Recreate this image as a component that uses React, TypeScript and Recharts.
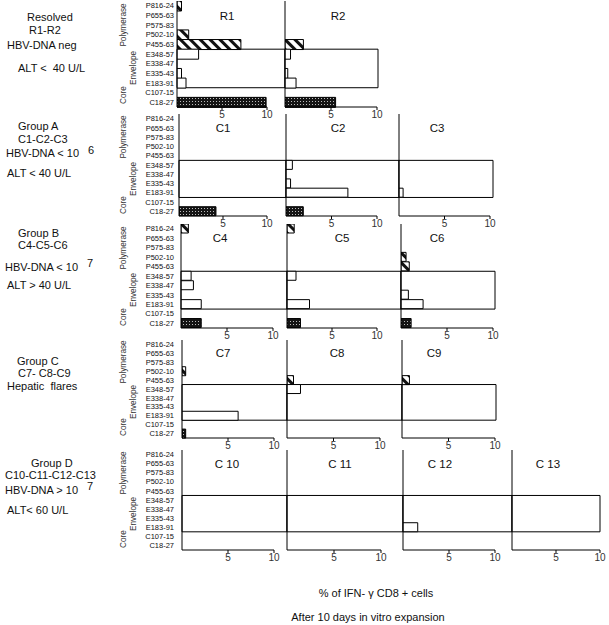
import React from 'react';
import { BarChart, Bar, XAxis, YAxis, ReferenceArea, Cell } from 'recharts';

// peptide categories, top to bottom
const categories = ['P816-24', 'P655-63', 'P575-83', 'P502-10', 'P455-63', 'E348-57', 'E338-47', 'E335-43', 'E183-91', 'C107-15', 'C18-27'];
const groupOf = ['pol', 'pol', 'pol', 'pol', 'pol', 'env', 'env', 'env', 'env', 'core', 'core'];
const xTicks = [5, 10];

// % of IFN-gamma CD8+ cells per peptide (same order as categories)
const R1 = [0.5, 0, 0, 1.3, 7.1, 2.4, 0, 0.5, 1.0, 0, 9.9];
const R2 = [0, 0, 0, 0, 2.0, 0.6, 0, 0.3, 1.2, 0, 5.5];
const C1 = [0, 0, 0, 0, 0, 0, 0, 0, 0, 0, 4.2];
const C2 = [0, 0, 0, 0, 0, 0.7, 0, 0.5, 6.8, 0, 1.9];
const C3 = [0, 0, 0, 0, 0, 0, 0, 0, 0.45, 0, 0];
const C4 = [0.8, 0, 0, 0, 0, 1.1, 1.35, 0, 2.2, 0, 2.2];
const C5 = [0.8, 0, 0, 0, 0, 1.0, 0, 0, 2.5, 0, 1.5];
const C6 = [0, 0, 0, 0.55, 0.9, 0, 0, 0.8, 2.4, 0, 1.1];
const C7 = [0, 0, 0, 0.4, 0, 0, 0, 0, 6.1, 0, 0.4];
const C8 = [0, 0, 0, 0, 0.7, 1.45, 0, 0, 0, 0, 0];
const C9 = [0, 0, 0, 0, 0.8, 0, 0, 0, 0, 0, 0];
const C10 = [0, 0, 0, 0, 0, 0, 0, 0, 0, 0, 0];
const C11 = [0, 0, 0, 0, 0, 0, 0, 0, 0, 0, 0];
const C12 = [0, 0, 0, 0, 0, 0, 0, 0, 1.6, 0, 0];
const C13 = [0, 0, 0, 0, 0, 0, 0, 0, 0, 0, 0];

// layout of the panel rows (pixels)
const rows = [
    {
        top: 1, bottom: 107, boxRight: 378,
        panels: [
            { name: 'R1', values: R1, x0: 177, w: 90, titleX: 227 },
            { name: 'R2', values: R2, x0: 285, w: 92, titleX: 338 },
        ],
        labels: [
            { t: 'Resolved', x: 27, y: 17 },
            { t: 'R1-R2', x: 29, y: 30 },
            { t: 'HBV-DNA neg', x: 7, y: 45 },
            { t: 'ALT <  40 U/L', x: 18, y: 68 },
        ],
    },
    {
        top: 114, bottom: 216, boxRight: 493,
        panels: [
            { name: 'C1', values: C1, x0: 179, w: 88, titleX: 223 },
            { name: 'C2', values: C2, x0: 286, w: 91, titleX: 338 },
            { name: 'C3', values: C3, x0: 399, w: 91, titleX: 437 },
        ],
        labels: [
            { t: 'Group A', x: 18, y: 126 },
            { t: 'C1-C2-C3', x: 18, y: 139 },
            { t: 'HBV-DNA < 10', x: 6, y: 153 },
            { t: '6', x: 88, y: 150 },
            { t: 'ALT < 40 U/L', x: 7, y: 173 },
        ],
    },
    {
        top: 224, bottom: 328, boxRight: 495,
        panels: [
            { name: 'C4', values: C4, x0: 181, w: 92, titleX: 220 },
            { name: 'C5', values: C5, x0: 287, w: 90, titleX: 342 },
            { name: 'C6', values: C6, x0: 401, w: 92, titleX: 437 },
        ],
        labels: [
            { t: 'Group B', x: 18, y: 233 },
            { t: 'C4-C5-C6', x: 18, y: 245 },
            { t: 'HBV-DNA < 10', x: 5, y: 267 },
            { t: '7', x: 87, y: 263 },
            { t: 'ALT > 40 U/L', x: 7, y: 285 },
        ],
    },
    {
        top: 340, bottom: 438, boxRight: 496,
        panels: [
            { name: 'C7', values: C7, x0: 182, w: 92, titleX: 223 },
            { name: 'C8', values: C8, x0: 287, w: 93, titleX: 337 },
            { name: 'C9', values: C9, x0: 402, w: 93, titleX: 434 },
        ],
        labels: [
            { t: 'Group C', x: 17, y: 361 },
            { t: 'C7- C8-C9', x: 18, y: 373 },
            { t: 'Hepatic  flares', x: 7, y: 386 },
        ],
    },
    {
        top: 450, bottom: 550, boxRight: 600,
        panels: [
            { name: 'C 10', values: C10, x0: 182, w: 92, titleX: 227 },
            { name: 'C 11', values: C11, x0: 287, w: 94, titleX: 340 },
            { name: 'C 12', values: C12, x0: 403, w: 92, titleX: 440 },
            { name: 'C 13', values: C13, x0: 512, w: 88, titleX: 548 },
        ],
        labels: [
            { t: 'Group D', x: 31, y: 463 },
            { t: 'C10-C11-C12-C13', x: 5, y: 475 },
            { t: 'HBV-DNA > 10', x: 5, y: 490 },
            { t: '7', x: 87, y: 486 },
            { t: 'ALT< 60 U/L', x: 7, y: 510 },
        ],
    },
];

const FONT = '"Liberation Sans", Arial, Helvetica, sans-serif';
const X_AXIS_H = 18;
const LABEL_END = 174;

const Txt = ({ x, y, size = 11, center = false, color = '#111', children }: any) => (
    <div
        style={{
            position: 'absolute',
            left: x,
            top: y - size * 0.59,
            fontSize: size,
            lineHeight: `${size * 1.2}px`,
            whiteSpace: 'pre',
            color,
            transform: center ? 'translateX(-50%)' : undefined,
        }}
    >
        {children}
    </div>
);

const VTxt = ({ x, y, children }: any) => (
    <div
        style={{
            position: 'absolute',
            left: x,
            top: y,
            fontSize: 8.2,
            lineHeight: '10px',
            whiteSpace: 'nowrap',
            color: '#333',
            transform: 'translate(-50%, -50%) rotate(-90deg)',
        }}
    >
        {children}
    </div>
);

const Panel = ({ panel, row, first, next, id }: any) => {
    const { values, x0, w } = panel;
    const yW = first ? x0 - 110 : 1;
    const rightGap = next ? next.x0 - (x0 + w) : 12;
    const width = yW + w + rightGap;
    const height = row.bottom - row.top + X_AXIS_H;
    const data = categories.map((c, i) => ({ name: c, value: values[i] }));
    const boxEnd = next ? ((next.x0 - x0) / w) * 10 : ((row.boxRight - x0) / w) * 10;

    const fillFor = (g: string) => {
        if (g === 'pol') return `url(#hatch-${id})`;
        if (g === 'core') return `url(#dots-${id})`;
        return '#fff';
    };

    return (
        <div style={{ position: 'absolute', left: x0 - yW, top: row.top }}>
            <BarChart
                width={width}
                height={height}
                data={data}
                layout="vertical"
                margin={{ top: 0, right: rightGap, bottom: 0, left: 0 }}
                barCategoryGap={0}
            >
                <defs>
                    <pattern id={`hatch-${id}`} width="7" height="7" patternUnits="userSpaceOnUse" patternTransform="rotate(-45)">
                        <rect width="7" height="7" fill="#fff" />
                        <rect width="3" height="7" fill="#111" />
                    </pattern>
                    <pattern id={`dots-${id}`} width="3" height="3" patternUnits="userSpaceOnUse">
                        <rect width="3" height="3" fill="#141414" />
                        <rect x="1" y="1" width="1" height="1" fill="#bbb" />
                    </pattern>
                </defs>
                <XAxis
                    type="number"
                    domain={[0, 10]}
                    allowDataOverflow
                    ticks={xTicks}
                    interval={0}
                    height={X_AXIS_H}
                    tickSize={3}
                    tickMargin={1}
                    stroke="#000"
                    tick={{ fontSize: 10, fill: '#333' }}
                />
                <YAxis
                    type="category"
                    dataKey="name"
                    width={yW}
                    interval={0}
                    tickLine={false}
                    tickSize={0}
                    tickMargin={x0 - LABEL_END}
                    tick={first ? { fontSize: 7.5, fill: '#111' } : false}
                    stroke="#000"
                />
                <ReferenceArea
                    y1="E348-57"
                    y2="E183-91"
                    x1={0}
                    x2={boxEnd}
                    ifOverflow="visible"
                    fill="none"
                    fillOpacity={0}
                    stroke="#000"
                    strokeWidth={1}
                />
                <Bar dataKey="value" isAnimationActive={false} stroke="#000" strokeWidth={1}>
                    {data.map((d, i) => (
                        <Cell key={d.name} fill={fillFor(groupOf[i])} />
                    ))}
                </Bar>
            </BarChart>
        </div>
    );
};

const App = () => {
    return (
        <div
            style={{
                position: 'absolute',
                left: 0,
                top: 0,
                width: 609,
                height: 625,
                background: '#fff',
                fontFamily: FONT,
                overflow: 'hidden',
            }}
        >
            {rows.map((row, ri) => {
                const b = (row.bottom - row.top) / 11;
                return (
                    <React.Fragment key={ri}>
                        {row.panels.map((p, pi) => (
                            <Panel
                                key={p.name}
                                panel={p}
                                row={row}
                                first={pi === 0}
                                next={row.panels[pi + 1]}
                                id={`${ri}-${pi}`}
                            />
                        ))}
                        {row.panels.map(p => (
                            <Txt key={`t-${p.name}`} x={p.titleX} y={row.top + 1.6 * b} size={11.5} center>
                                {p.name}
                            </Txt>
                        ))}
                        {row.labels.map((l, li) => (
                            <Txt key={`l-${li}`} x={l.x} y={l.y}>
                                {l.t}
                            </Txt>
                        ))}
                        <VTxt x={124} y={row.top + 2.5 * b}>Polymerase</VTxt>
                        <VTxt x={134} y={row.top + 7 * b}>Envelope</VTxt>
                        <VTxt x={124} y={row.top + 10 * b - 2}>Core</VTxt>
                    </React.Fragment>
                );
            })}
            <Txt x={376} y={593} size={11} center>
                % of IFN- γ CD8 + cells
            </Txt>
            <Txt x={368} y={617} size={11} center>
                After 10 days in vitro expansion
            </Txt>
        </div>
    );
};

export default App;
